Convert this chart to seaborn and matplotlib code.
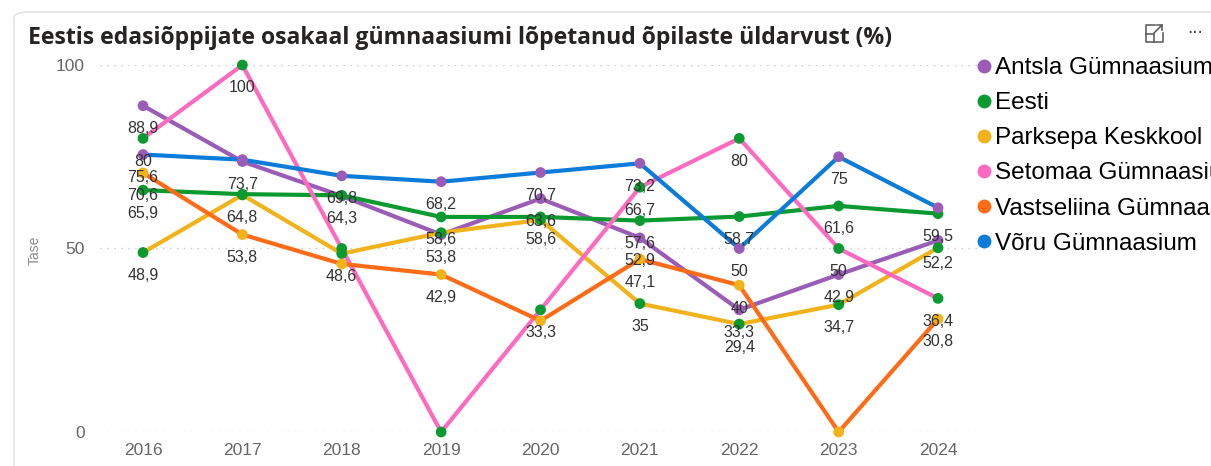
import numpy as np
import pandas as pd
import seaborn as sns
import matplotlib.pyplot as plt
from matplotlib.lines import Line2D
from matplotlib.patches import FancyBboxPatch

# data (percent)
years = [2016, 2017, 2018, 2019, 2020, 2021, 2022, 2023, 2024]
schools = ['Antsla Gümnaasium', 'Eesti', 'Parksepa Keskkool',
           'Setomaa Gümnaasium', 'Vastseliina Gümnaasium', 'Võru Gümnaasium']

antsla = [88.9, 73.7, 64.3, 53.8, 63.6, 52.9, 33.3, 42.9, 52.2]
eesti = [65.9, 64.8, 64.5, 58.6, 58.6, 57.6, 58.7, 61.6, 59.5]
parksepa = [48.9, 64.6, 48.6, 54.3, 57.8, 35.0, 29.4, 34.7, 50.2]
setomaa = [80.0, 100.0, 50.0, 0.0, 33.3, 66.7, 80.0, 50.0, 36.4]
vastseliina = [70.6, 53.8, 45.8, 42.9, 30.3, 47.1, 40.0, 0.0, 30.8]
voru = [75.6, 74.2, 69.8, 68.2, 70.7, 73.2, 50.0, 75.0, 61.1]

values = [antsla, eesti, parksepa, setomaa, vastseliina, voru]

line_colors = ['#9B5CB8', '#0A9A30', '#F2B219', '#FF6AC1', '#FF6B17', '#0C7CDA']
# the marker layer in the original is coloured differently from the lines
marker_colors = ['#9B5CB8', '#0A9A30', '#0A9A30', '#0A9A30', '#F2B219', '#9B5CB8']

df = pd.DataFrame({
    'year': np.tile(years, len(schools)),
    'school': np.repeat(schools, len(years)),
    'value': np.concatenate(values),
})

W, H = 1211, 466
fig = plt.figure(figsize=(W / 100, H / 100), dpi=100)
fig.patch.set_facecolor('white')

# visual container border
border = FancyBboxPatch((14 / W, -0.2), 1.2, 1.2 - 12 / H,
                        boxstyle='round,pad=0,rounding_size=0.012',
                        transform=fig.transFigure, fc='none',
                        ec='#E4E4E4', lw=1.2, zorder=-1)
fig.patches.append(border)

ax = fig.add_axes([100 / W, 34 / H, 878 / W, 367 / H])
ax.set_facecolor('none')

sns.lineplot(data=df, x='year', y='value', hue='school', hue_order=schools,
             palette=dict(zip(schools, line_colors)), linewidth=3,
             legend=False, ax=ax, zorder=2)
for l in ax.lines:
    l.set_solid_capstyle('round')
    l.set_solid_joinstyle('round')

sns.scatterplot(data=df, x='year', y='value', hue='school', hue_order=schools,
                palette=dict(zip(schools, marker_colors)), s=60,
                edgecolor='none', legend=False, ax=ax, zorder=3, clip_on=False)

# data labels below points, hide the ones that collide
for i, yr in enumerate(years):
    placed = []
    for j, s in enumerate(schools):
        v = values[j][i]
        if v < 3 or any(abs(v - p) < 3.5 for p in placed):
            continue
        placed.append(v)
        txt = f'{v:g}'.replace('.', ',')
        ax.annotate(txt, (yr, v), xytext=(0, -16.5), textcoords='offset points',
                    ha='center', va='center', fontsize=11.5, color='#333333',
                    family='Liberation Sans', zorder=4, annotation_clip=False)

ax.set_xlim(2016 - 43 / 99.4, 2024 + 40 / 99.4)
ax.set_ylim(0, 100)
ax.set_yticks([0, 50, 100])
ax.set_xticks(years)
ax.set_xticklabels([str(y) for y in years])
for sp in ax.spines.values():
    sp.set_visible(False)
ax.tick_params(length=0, labelsize=12.5, labelcolor='#666666', pad=8)
ax.tick_params(axis='y', pad=11)
for t in ax.get_xticklabels() + ax.get_yticklabels():
    t.set_family('Liberation Sans')
ax.grid(axis='y', color='#C8C8C8', linestyle=(0, (1, 4)), linewidth=1)
ax.set_axisbelow(True)
ax.set_xlabel('')
ax.set_ylabel('')

fig.text(35 / W, 1 - 250 / H, 'Tase', rotation=90, ha='center', va='center',
         fontsize=10, color='#8A8A8A', family='Liberation Sans')

fig.text(28 / W, 1 - 38 / H,
         'Eestis edasiõppijate osakaal gümnaasiumi lõpetanud õpilaste üldarvust (%)',
         fontsize=16.6, fontweight='bold', color='#252423', va='center',
         family=['Open Sans', 'DejaVu Sans'])

# header icons (expand + more options)
fig.text(1195 / W, 1 - 33 / H, '···', fontsize=12, color='#444444',
         ha='center', va='center')
icon = [
    [(1155, 25), (1146, 25), (1146, 42), (1163, 42), (1163, 33)],
    [(1146, 34), (1154, 34), (1154, 42)],
    [(1154, 33), (1162, 25)],
    [(1157, 25), (1162, 25), (1162, 30)],
]
for seg in icon:
    xs = [p[0] / W for p in seg]
    ys = [1 - p[1] / H for p in seg]
    fig.add_artist(Line2D(xs, ys, color='#555555', lw=1.1,
                          transform=fig.transFigure))

handles = [Line2D([], [], marker='o', linestyle='none', markersize=10,
                  markerfacecolor=c, markeredgecolor='none') for c in line_colors]
fig.legend(handles, schools, loc='upper left',
           bbox_to_anchor=(977 / W, 1 - 57 / H), frameon=False,
           prop={'family': 'Liberation Sans', 'size': 17.5},
           handlelength=0.55, handletextpad=0.2, borderpad=0,
           borderaxespad=0, labelspacing=0.54)

fig.savefig('out.png', dpi=100)
